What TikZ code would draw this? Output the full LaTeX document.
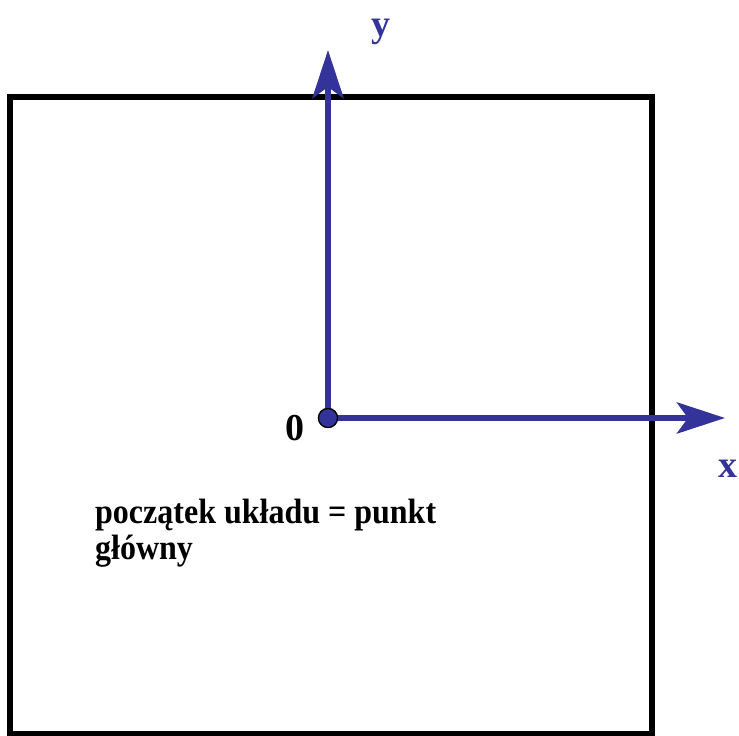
\documentclass[tikz,border=0pt]{standalone}
\usepackage{fontspec}
\setmainfont{Liberation Serif}
\usetikzlibrary{arrows.meta,positioning}
\definecolor{axisblue}{RGB}{51,51,153}

\begin{document}
\begin{tikzpicture}[x=1pt,y=1pt,axis/.style={draw=axisblue,line width=6.5pt,-{Stealth[length=48pt,width=31pt,inset=11pt]}},lbl/.style={font=\fontsize{38}{38}\bfseries\selectfont,inner sep=0pt},>=Latex]
\useasboundingbox (0,0) rectangle (739,736);
\draw[line width=5.5pt] (10,2) rectangle (652,639);
\coordinate (xend) at (725,318);
\coordinate (yend) at (328,686);
\node[circle,fill=axisblue,draw=black,line width=1.2pt,minimum size=19pt,inner sep=0pt] (o) at (328,318) {};
\draw[axis] (o.center) -- (yend);
\draw[axis] (o.center) -- (xend);
\node[circle,fill=axisblue,draw=black,line width=1.2pt,minimum size=19pt,inner sep=0pt] at (o) {};
\node[lbl,text=axisblue] (ly) at (381,704) {y};
\node[lbl,text=axisblue] (lx) at (728,267) {x};
\node[lbl] (l0) at (295,308) {0};
\node[font=\fontsize{32}{33}\bfseries\selectfont,align=left,anchor=base west,inner sep=0pt,yscale=1.1] (txt) at (95,176) {początek układu = punkt\\główny};
\end{tikzpicture}
\end{document}
